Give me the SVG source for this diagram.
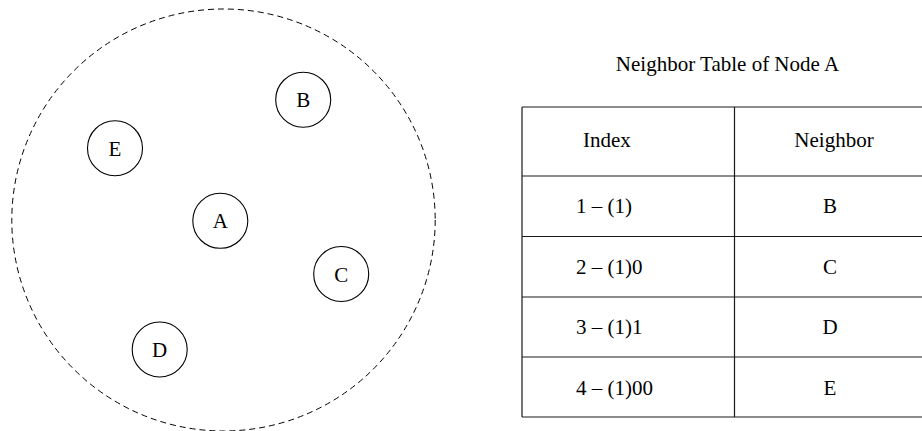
<svg xmlns="http://www.w3.org/2000/svg" width="922" height="431" viewBox="0 0 922 431">
<style>
text{font-family:"Liberation Serif","Times New Roman",serif;font-size:21px;fill:#000}
.node circle{fill:#fff;stroke:#000;stroke-width:1.1}
.c{text-anchor:middle}
.grid{stroke:#1a1a1a;stroke-width:1.2;fill:none}
</style>
<rect width="922" height="431" fill="#fff"/>
<ellipse id="range" cx="223.5" cy="220" rx="211.7" ry="211" fill="none" stroke="#000" stroke-width="1" stroke-dasharray="6,4"/>
<g id="A" class="node"><circle cx="220.3" cy="220.8" r="27.5"/><text class="c" x="220.3" y="228.3">A</text></g>
<g id="B" class="node"><circle cx="303.2" cy="99.7" r="27.5"/><text class="c" x="303.2" y="107.2">B</text></g>
<g id="C" class="node"><circle cx="341.2" cy="274" r="27.5"/><text class="c" x="341.2" y="281.5">C</text></g>
<g id="D" class="node"><circle cx="159.7" cy="349.5" r="27.5"/><text class="c" x="159.7" y="357">D</text></g>
<g id="E" class="node"><circle cx="115" cy="148.2" r="27.5"/><text class="c" x="115" y="155.7">E</text></g>
<g id="connectors"></g>
<g id="table">
<text class="c" x="727.5" y="70.7">Neighbor Table of Node A</text>
<path class="grid" d="M522,107H930M522,176H930M522,236.5H930M522,297H930M522,357H930M522,417H930M522,107V417M734.5,107V417"/>
<text x="583" y="147">Index</text>
<text class="c" x="834" y="147">Neighbor</text>
<text x="576" y="213">1 – (1)</text>
<text class="c" x="830" y="213">B</text>
<text x="576" y="274">2 – (1)0</text>
<text class="c" x="830" y="274">C</text>
<text x="576" y="334">3 – (1)1</text>
<text class="c" x="830" y="334">D</text>
<text x="576" y="395">4 – (1)00</text>
<text class="c" x="830" y="395">E</text>
</g>
</svg>
